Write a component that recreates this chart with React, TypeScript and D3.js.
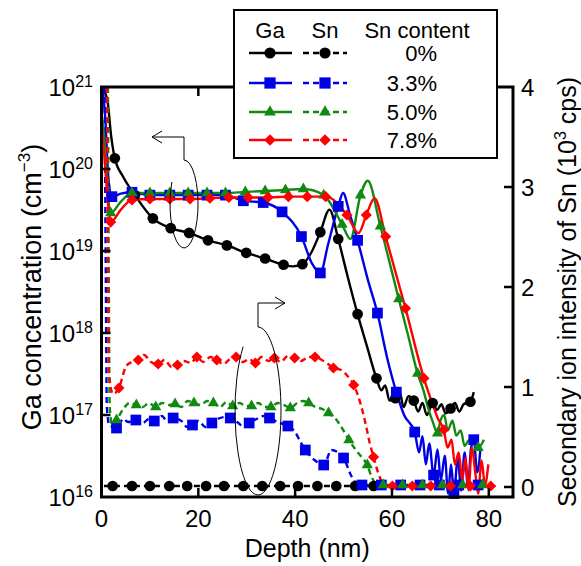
import React from 'react';
import * as d3 from 'd3';

// [depth (nm), value, marker?]
type Pt = [number, number, number?];

// Ga concentration (cm^-3), solid lines, left log axis
const gaBlack: Pt[] = [
  [0.2, 9.5e20], [1.2, 7e20], [2.0, 2.5e20], [2.75, 1.35e20, 1], [4.5, 8e19], [6.9, 4.8e19, 1],
  [10.6, 2.5e19, 1], [14.3, 1.9e19, 1], [18.1, 1.66e19, 1], [22.0, 1.35e19, 1], [25.9, 1.17e19, 1],
  [29.9, 9.5e18, 1], [33.8, 8.1e18, 1], [37.6, 6.8e18, 1], [39.5, 6.5e18], [41.5, 6.9e18, 1],
  [43.5, 1.0e19], [45.2, 1.7e19, 1], [47.1, 3.2e19], [48.9, 1.4e19, 1], [50.8, 5e18],
  [52.9, 1.7e18, 1], [54.8, 7e17], [56.8, 2.8e17, 1], [57.8, 2.0e17], [58.6, 2.3e17],
  [59.5, 1.5e17], [60.7, 1.6e17, 1], [61.6, 1.9e17], [62.4, 1.25e17], [63.4, 1.7e17],
  [64.5, 1.5e17, 1], [65.4, 1.1e17], [66.3, 1.4e17], [67.2, 1.0e17], [68.4, 1.4e17, 1],
  [69.3, 1.15e17], [70.2, 1.35e17], [71.1, 1.05e17], [72.1, 1.2e17, 1], [73.0, 1.4e17],
  [73.9, 1.1e17], [74.8, 1.35e17], [76.2, 1.45e17, 1], [76.9, 1.9e17],
];
const gaBlue: Pt[] = [
  [0.2, 1e21], [0.8, 4e20], [1.4, 8e19], [2.15, 4.6e19, 1], [4, 5e19], [6.3, 5.2e19, 1],
  [10.0, 4.8e19, 1], [14.1, 4.8e19, 1], [17.9, 4.8e19, 1], [21.8, 4.8e19, 1], [25.6, 4.8e19, 1],
  [29.3, 4.1e19, 1], [33.4, 3.9e19, 1], [37.3, 3.0e19, 1], [41.3, 1.5e19, 1], [43.5, 7e18],
  [45.2, 5.4e18, 1], [46.8, 1.2e19], [48.9, 3.5e19, 1], [49.9, 5.1e19], [51.3, 2.8e19],
  [52.9, 1.35e19, 1], [55, 4.5e18], [57.0, 1.75e18, 1], [59, 5e17], [60.9, 1.9e17, 1],
  [62.5, 1.0e17], [64.7, 6.2e16, 1], [65.6, 3.5e16], [66.3, 5.5e16], [67.0, 2.5e16],
  [67.7, 4.5e16], [68.6, 1.85e16, 1], [69.4, 3.8e16], [70.1, 1.6e16], [70.9, 3.2e16],
  [71.6, 1.1e16], [72.2, 2.5e16], [72.8, 1.1e16, 1], [73.6, 3e16], [74.3, 1.2e16],
  [75.0, 3.5e16], [75.7, 1.3e16], [76.3, 3.8e16], [76.9, 5e16, 1], [77.6, 2e16], [78.3, 4e16],
];
const gaGreen: Pt[] = [
  [0.2, 4e20], [0.8, 1.6e20], [1.3, 5e19], [1.9, 2.9e19, 1], [4, 4e19], [6.3, 5.1e19, 1],
  [10.0, 5.1e19, 1], [14.1, 5.1e19, 1], [17.9, 5.1e19, 1], [21.8, 5.1e19, 1], [25.6, 5.1e19, 1],
  [29.7, 5.25e19, 1], [33.8, 5.4e19, 1], [38.0, 5.55e19, 1], [41.7, 5.7e19, 1], [45.9, 4.8e19, 1],
  [49.7, 2.1e19, 1], [51.4, 1.4e19], [53.5, 4.8e19, 1], [55.0, 7.2e19], [57.6, 2e19, 1],
  [61.4, 2.6e18, 1], [63.3, 9.5e17], [65.3, 3.2e17, 1], [66.5, 2.0e17], [67.5, 1.2e17],
  [68.5, 8e16], [69.4, 6e16, 1], [70.0, 8.5e16], [70.8, 1.0e17], [71.5, 6.5e16], [72.5, 8.5e16],
  [73.3, 5.6e16], [74.2, 6.5e16], [75.0, 4.2e16], [76.0, 5e16], [77.8, 4e16, 1], [79, 5e16],
];
const gaRed: Pt[] = [
  [0.2, 2.8e20], [0.8, 1e20], [1.3, 4e19], [1.9, 2.25e19, 1], [4, 3.2e19], [6.3, 4.2e19, 1],
  [10.0, 4.3e19, 1], [14.1, 4.3e19, 1], [18.3, 4.3e19, 1], [22.4, 4.4e19, 1], [26.3, 4.5e19, 1],
  [30.3, 4.5e19, 1], [34.4, 4.5e19, 1], [38.6, 4.6e19, 1], [42.5, 4.6e19, 1], [46.3, 4.6e19, 1],
  [50.7, 2.75e19, 1], [53.1, 1.65e19], [54.7, 2.75e19, 1], [56.4, 4.4e19], [58.7, 1.5e19, 1],
  [62.8, 2.0e18, 1], [66.6, 2.8e17, 1], [68.5, 1.3e17], [69.5, 9e16], [70.7, 6.6e16, 1],
  [71.5, 4e16], [72.3, 5e16], [73.0, 2.5e16], [73.8, 3.5e16], [74.5, 1.6e16], [75.2, 3e16],
  [75.8, 1.2e16], [76.5, 4e16], [77.2, 2e16], [77.8, 1.1e16], [78.5, 2.8e16], [79.2, 1.4e16],
  [79.9, 2.5e16],
];

// Sn secondary ion intensity (10^3 cps), dashed lines, right axis
const snBlack: Pt[] = [
  [0.5, 0.01], [2.3, 0.01, 1], [6.3, 0.01, 1], [10.0, 0.01, 1], [14.0, 0.01, 1], [17.7, 0.01, 1],
  [21.6, 0.01, 1], [25.3, 0.01, 1], [29.3, 0.01, 1], [33.2, 0.01, 1], [36.9, 0.01, 1],
  [40.6, 0.01, 1], [44.6, 0.01, 1], [48.5, 0.01, 1], [52.4, 0.01, 1], [56.2, 0.01, 1], [57.8, 0.01],
];
const snBlue: Pt[] = [
  [0.6, 4.4], [0.9, 2.0], [1.1, 0.8], [1.6, 0.62], [3.1, 0.59, 1], [4.5, 0.68], [5.5, 0.65],
  [7.1, 0.67, 1], [8.5, 0.64], [9.8, 0.68], [10.9, 0.66, 1], [12.5, 0.71], [13.5, 0.66],
  [14.8, 0.69, 1], [16.5, 0.66], [17.7, 0.6], [18.8, 0.62, 1], [20, 0.66], [21.5, 0.6],
  [22.8, 0.64, 1], [24, 0.68], [25.5, 0.7], [26.6, 0.69, 1], [28, 0.65], [29.5, 0.6],
  [30.5, 0.64, 1], [32, 0.68], [33.5, 0.71], [34.7, 0.69, 1], [36.3, 0.65], [38.5, 0.61, 1],
  [40, 0.55], [41.1, 0.45], [42.1, 0.37, 1], [44, 0.27], [45.9, 0.22, 1], [47.5, 0.37],
  [50.0, 0.29, 1], [51.5, 0.12], [52.6, 0.04], [53.8, 0.02, 1], [57.8, 0.02, 1], [61.8, 0.02, 1],
  [65.8, 0.02, 1], [69.8, 0.02, 1], [73.8, 0.02, 1], [77.8, 0.02, 1], [79, 0.02],
];
const snGreen: Pt[] = [
  [1.3, 4.4], [1.5, 2.2], [1.7, 0.8], [2.2, 0.62], [3.1, 0.67, 1], [4.5, 0.78], [5.8, 0.84],
  [7.2, 0.82, 1], [8.5, 0.8], [9.8, 0.84], [11.2, 0.8, 1], [12.5, 0.84], [14, 0.82],
  [15.2, 0.83, 1], [16.5, 0.8], [17.8, 0.86], [19.1, 0.84, 1], [20.5, 0.82], [21.8, 0.86],
  [23.1, 0.84, 1], [24.5, 0.8], [25.8, 0.85], [27.1, 0.81, 1], [28.5, 0.84], [29.8, 0.81],
  [31.0, 0.81, 1], [32.4, 0.84], [33.7, 0.8], [35.0, 0.8, 1], [36.4, 0.84], [37.7, 0.82],
  [39.0, 0.79, 1], [40.4, 0.84], [41.6, 0.86], [42.8, 0.84, 1], [44.2, 0.8], [45.6, 0.78],
  [46.9, 0.74, 1], [48.4, 0.68], [49.8, 0.58], [51.1, 0.47, 1], [52.4, 0.38], [53.7, 0.3],
  [54.9, 0.22, 1], [55.8, 0.1], [56.6, 0.04], [58.2, 0.02, 1], [62.2, 0.02, 1], [66.3, 0.02, 1],
  [70.4, 0.02, 1], [74.6, 0.02, 1], [78.7, 0.02, 1], [79.6, 0.02],
];
const snRed: Pt[] = [
  [1.1, 4.4], [1.3, 2.6], [1.5, 1.15], [2.4, 0.93], [3.6, 0.99, 1], [5.0, 1.2], [6.2, 1.25],
  [7.6, 1.27, 1], [8.8, 1.32], [10.2, 1.25], [11.7, 1.23, 1], [13.0, 1.27], [14.5, 1.2],
  [15.7, 1.22, 1], [17.0, 1.26], [18.5, 1.24], [19.7, 1.3, 1], [21, 1.25], [22.5, 1.3],
  [23.8, 1.27, 1], [25.2, 1.23], [26.5, 1.28], [27.8, 1.3, 1], [29.2, 1.25], [30.5, 1.28],
  [31.8, 1.24, 1], [33, 1.3], [34.5, 1.26], [35.7, 1.29, 1], [37, 1.25], [38.5, 1.31],
  [39.9, 1.29, 1], [41.2, 1.26], [42.8, 1.3], [44.1, 1.3, 1], [45.5, 1.27], [46.8, 1.23],
  [47.9, 1.19, 1], [49.5, 1.17], [51, 1.1], [52.1, 1.02, 1], [53.7, 0.8], [54.7, 0.6],
  [55.4, 0.44], [56.2, 0.3, 1], [57.3, 0.12], [58.3, 0.03], [60.1, 0.01, 1], [64.2, 0.01, 1],
  [68.0, 0.01, 1], [72.1, 0.01, 1], [76.2, 0.01, 1], [80.4, 0.01, 1],
];

const contents = ['0%', '3.3%', '5.0%', '7.8%'];
const colors = ['#000000', '#0000e6', '#128a12', '#ff0000'];
const shapes = ['circle', 'square', 'triangle', 'diamond'];
const gaSeries = [gaBlack, gaBlue, gaGreen, gaRed];
const snSeries = [snBlack, snBlue, snGreen, snRed];

const xTicks = [0, 20, 40, 60, 80];
const leftExps = [16, 17, 18, 19, 20, 21];
const rightTicks = [0, 1, 2, 3, 4];

const W = 581;
const H = 566;
const L = 101.5, R = 513, T = 87, B = 497;
const FONT = '"Liberation Sans", Arial, Helvetica, sans-serif';

const x = d3.scaleLinear().domain([0, 85]).range([L, R]);
const yL = d3.scaleLog().domain([1e16, 1e21]).range([B, T]);
const yR = d3.scaleLinear().domain([-0.1, 4]).range([B, T]);

function markerPath(shape: string, big = false) {
  const k = big ? 1.1 : 1;
  switch (shape) {
    case 'circle':
      return d3.symbol().type(d3.symbolCircle).size(90 * k)()!;
    case 'square':
      return d3.symbol().type(d3.symbolSquare).size(115 * k)()!;
    case 'triangle':
      return d3.symbol().type(d3.symbolTriangle).size(55 * k)()!;
    default:
      return d3.symbol().type(d3.symbolSquare).size(62 * k)()!;
  }
}

function Marker({ cx, cy, shape, color, big }: any) {
  const rot = shape === 'diamond' ? ' rotate(45)' : '';
  return <path d={markerPath(shape, big)} transform={`translate(${cx},${cy})${rot}`} fill={color} />;
}

export default function App() {
  const gaLine = d3.line<Pt>().x(d => x(d[0])).y(d => yL(d[1])).curve(d3.curveMonotoneX);
  const snLine = d3.line<Pt>().x(d => x(d[0])).y(d => yR(d[1])).curve(d3.curveMonotoneX);

  const legendRows = [53, 83, 112, 140];

  return (
    <svg width={W} height={H} style={{ position: 'absolute', left: 0, top: 0, background: '#fff' }}
      fontFamily={FONT}>
      <defs>
        <clipPath id="plot">
          <rect x={L} y={T} width={R - L} height={B - T} />
        </clipPath>
      </defs>

      {/* data */}
      <g clipPath="url(#plot)">
        {contents.map((c, i) => (
          <g key={c}>
            <path d={snLine(snSeries[i])!} fill="none" stroke={colors[i]} strokeWidth={2.4}
              strokeDasharray="6,4" />
            <path d={gaLine(gaSeries[i])!} fill="none" stroke={colors[i]} strokeWidth={2.4} />
          </g>
        ))}
      </g>
      {contents.map((c, i) => (
        <g key={c + 'm'}>
          {snSeries[i].filter(d => d[2]).map((d, j) => (
            <Marker key={'s' + j} cx={x(d[0])} cy={yR(d[1])} shape={shapes[i]} color={colors[i]} />
          ))}
          {gaSeries[i].filter(d => d[2]).map((d, j) => (
            <Marker key={'g' + j} cx={x(d[0])} cy={yL(d[1])} shape={shapes[i]} color={colors[i]} />
          ))}
        </g>
      ))}

      {/* annotations */}
      <g fill="none" stroke="#000" strokeWidth={1}>
        <path d="M184,160 A14,44 0 1,1 171.9,182" />
        <path d="M184,160 V137 H152 M162,131 L152,137 L162,143" />
        <path d="M258,327 A23,84 0 1,1 243.2,346.7" />
        <path d="M258,327 V303 H285 M275,297 L285,303 L275,309" />
      </g>

      {/* ticks */}
      <g stroke="#000" strokeWidth={2.5}>
        {leftExps.slice(1, -1).map(e => (
          <line key={'l' + e} x1={L} x2={L + 9} y1={yL(10 ** e)} y2={yL(10 ** e)} />
        ))}
        {rightTicks.slice(0, -1).map(t => (
          <line key={'r' + t} x1={R} x2={R - 9} y1={yR(t)} y2={yR(t)} />
        ))}
        {xTicks.slice(1).map(t => (
          <g key={'x' + t}>
            <line x1={x(t)} x2={x(t)} y1={B} y2={B - 9} />
            <line x1={x(t)} x2={x(t)} y1={T} y2={T + 9} />
          </g>
        ))}
      </g>

      {/* frame */}
      <rect x={L} y={T} width={R - L} height={B - T} fill="none" stroke="#000" strokeWidth={3} />

      {/* tick labels */}
      <g fontSize={24} fill="#000">
        {leftExps.map(e => (
          <text key={'ll' + e} x={93} y={yL(10 ** e) + 8.5} textAnchor="end">
            10<tspan fontSize={16} dy={-9}>{e}</tspan>
          </text>
        ))}
        {rightTicks.map(t => (
          <text key={'rl' + t} x={521} y={yR(t) + 8.5}>{t}</text>
        ))}
        {xTicks.map(t => (
          <text key={'xl' + t} x={x(t)} y={527} textAnchor="middle">{t}</text>
        ))}
      </g>

      {/* axis titles */}
      <g fill="#000">
        <text x={(L + R) / 2} y={557} textAnchor="middle" fontSize={25}>Depth (nm)</text>
        <text transform="translate(41,287) rotate(-90)" textAnchor="middle" fontSize={27}>
          Ga concentration (cm<tspan fontSize={17} dy={-11}>−3</tspan><tspan dy={11}>)</tspan>
        </text>
        <text transform="translate(576,292) rotate(-90)" textAnchor="middle" fontSize={25}>
          Secondary ion intensity of Sn (10<tspan fontSize={16} dy={-10}>3</tspan>
          <tspan dy={10}> cps)</tspan>
        </text>
      </g>

      {/* legend */}
      <g>
        <rect x={234} y={10} width={263} height={148} fill="#fff" stroke="#000" strokeWidth={2} />
        <g fontSize={22} fill="#000" textAnchor="middle">
          <text x={270} y={38}>Ga</text>
          <text x={325} y={38}>Sn</text>
          <text x={417} y={38}>Sn content</text>
        </g>
        {contents.map((c, i) => (
          <g key={'lg' + c}>
            <line x1={249} x2={292} y1={legendRows[i]} y2={legendRows[i]} stroke={colors[i]} strokeWidth={2.4} />
            <line x1={303} x2={347} y1={legendRows[i]} y2={legendRows[i]} stroke={colors[i]} strokeWidth={2.4}
              strokeDasharray="6,4" />
            <Marker cx={270} cy={legendRows[i]} shape={shapes[i]} color={colors[i]} big />
            <Marker cx={325} cy={legendRows[i]} shape={shapes[i]} color={colors[i]} big />
            <text x={437} y={legendRows[i] + 8} fontSize={22} textAnchor="end">{c}</text>
          </g>
        ))}
      </g>
    </svg>
  );
}
